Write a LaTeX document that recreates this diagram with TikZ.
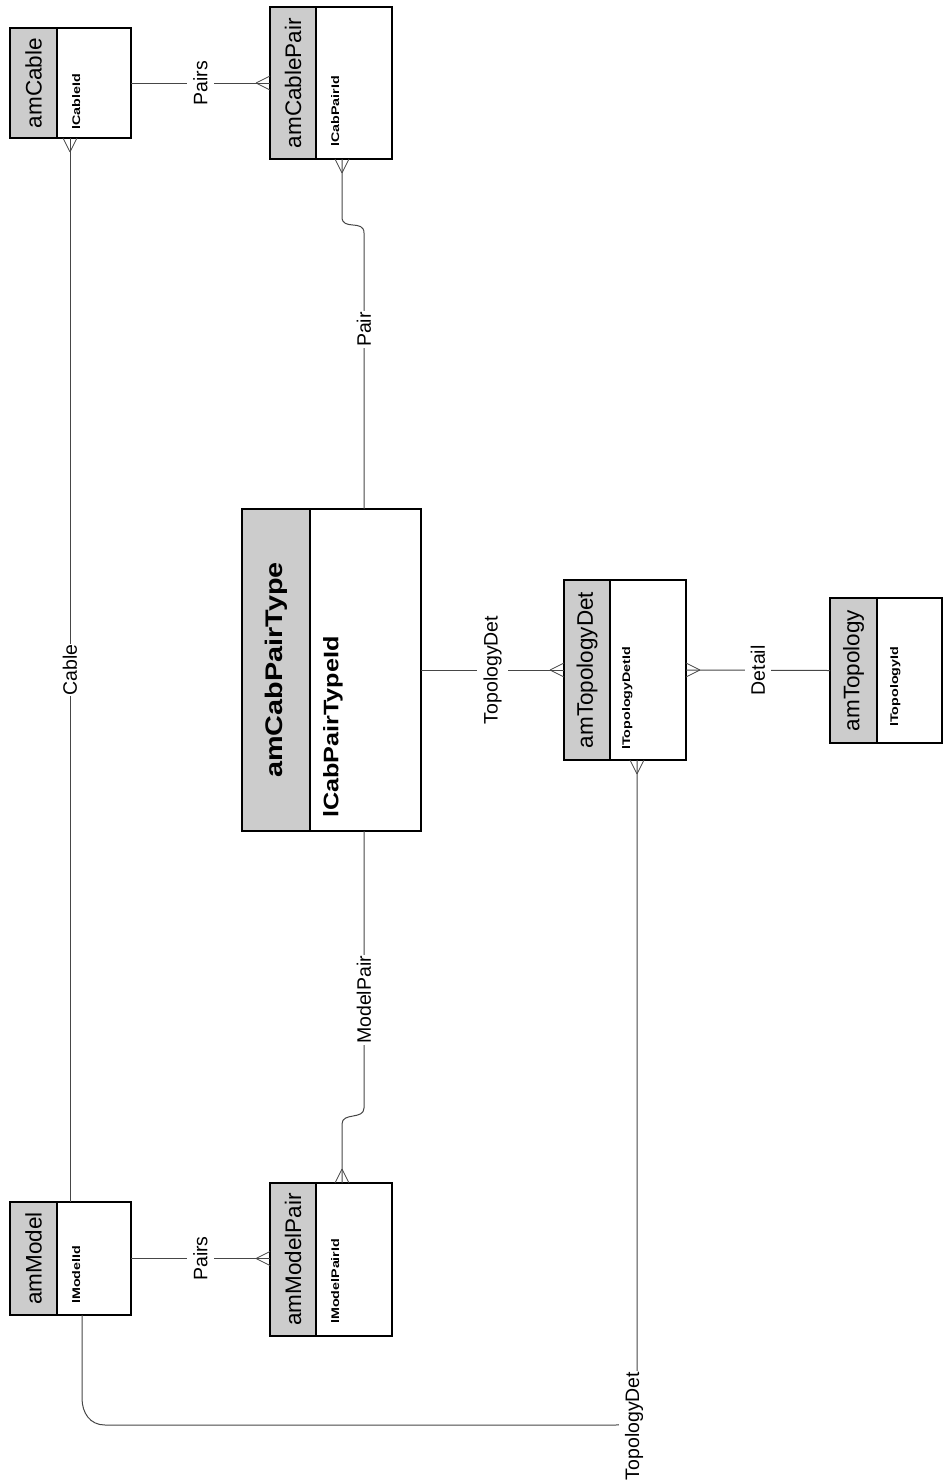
\documentclass[tikz,border=0pt]{standalone}
\usepackage{fontspec}
\setmainfont{Liberation Sans}
\newfontfamily\widefont[FakeStretch=1.2]{Liberation Sans}
\newfontfamily\keyfont[FakeStretch=1.3]{Liberation Sans}
\usetikzlibrary{positioning}
\definecolor{headgray}{RGB}{204,204,204}
\definecolor{linkgray}{RGB}{70,70,70}

\tikzset{
  entityhead/.style={draw=black, fill=headgray, line width=1.6pt, inner sep=0pt, outer sep=0pt, anchor=north west},
  entitykey/.style={draw=black, fill=white, line width=1.6pt, inner sep=0pt, outer sep=0pt, anchor=north west},
  tabname/.style={rotate=90, inner sep=0pt, font=\fontsize{22.5}{26}\selectfont},
  bigname/.style={rotate=90, inner sep=0pt, font=\widefont\bfseries\fontsize{24}{28}\selectfont},
  keytext/.style={rotate=90, inner sep=0pt, anchor=north west, font=\keyfont\bfseries\fontsize{11}{13}\selectfont},
  bigkey/.style={rotate=90, inner sep=0pt, anchor=north west, font=\widefont\bfseries\fontsize{21}{24}\selectfont},
  link/.style={draw=linkgray, line width=1pt},
  rel/.style={rotate=90, fill=white, inner xsep=1pt, inner ysep=6pt, font=\fontsize{19.5}{22}\selectfont}
}

% crow's foot: #1 point on the box edge, #2 direction away from the box
\newcommand{\crowfoot}[2]{%
  \draw[link, line width=0.8pt] ([shift={(#2:14pt)}]#1) -- ([shift={(#2+90:7pt)}]#1)
                                ([shift={(#2:14pt)}]#1) -- ([shift={(#2-90:7pt)}]#1);}

\begin{document}
\begin{tikzpicture}[x=1pt, y=-1pt]
    \useasboundingbox (0,0) rectangle (944,1484);

    % Tables
    \node[entityhead, minimum width=47pt, minimum height=110pt] (cable) at (10,28) {};
    \node[entitykey, minimum width=74pt, minimum height=110pt] (cableKey) at (cable.north east) {};
    \node[tabname] (cableName) at (cable.center) {amCable};
    \node[keytext] (cableId) at ([shift={(15pt,8pt)}]cableKey.south west) {lCableId};

    \node[entityhead, minimum width=46pt, minimum height=152pt] (cablePair) at (270,7) {};
    \node[entitykey, minimum width=76pt, minimum height=152pt] (cablePairKey) at (cablePair.north east) {};
    \node[tabname] (cablePairName) at (cablePair.center) {amCablePair};
    \node[keytext] (cablePairId) at ([shift={(15pt,12pt)}]cablePairKey.south west) {lCabPairId};

    \node[entityhead, minimum width=68pt, minimum height=322pt] (cabPair) at (242,509) {};
    \node[entitykey, minimum width=111pt, minimum height=322pt] (cabPairKey) at (cabPair.north east) {};
    \node[bigname] (cabPairName) at (cabPair.center) {amCabPairType};
    \node[bigkey] (cabPairId) at ([shift={(13pt,13pt)}]cabPairKey.south west) {lCabPairTypeId};

    \node[entityhead, minimum width=46pt, minimum height=180pt] (topoDet) at (564,580) {};
    \node[entitykey, minimum width=76pt, minimum height=180pt] (topoDetKey) at (topoDet.north east) {};
    \node[tabname] (topoDetName) at (topoDet.center) {amTopologyDet};
    \node[keytext] (topoDetId) at ([shift={(12pt,10pt)}]topoDetKey.south west) {lTopologyDetId};

    \node[entityhead, minimum width=47pt, minimum height=145pt] (topo) at (830,598) {};
    \node[entitykey, minimum width=65pt, minimum height=145pt] (topoKey) at (topo.north east) {};
    \node[tabname] (topoName) at (topo.center) {amTopology};
    \node[keytext] (topoId) at ([shift={(13pt,16pt)}]topoKey.south west) {lTopologyId};

    \node[entityhead, minimum width=47pt, minimum height=113pt] (model) at (10,1202) {};
    \node[entitykey, minimum width=74pt, minimum height=113pt] (modelKey) at (model.north east) {};
    \node[tabname] (modelName) at (model.center) {amModel};
    \node[keytext] (modelId) at ([shift={(15pt,11pt)}]modelKey.south west) {lModelId};

    \node[entityhead, minimum width=46pt, minimum height=153pt] (modelPair) at (270,1183) {};
    \node[entitykey, minimum width=76pt, minimum height=153pt] (modelPairKey) at (modelPair.north east) {};
    \node[tabname] (modelPairName) at (modelPair.center) {amModelPair};
    \node[keytext] (modelPairId) at ([shift={(15pt,12pt)}]modelPairKey.south west) {lModelPairId};

    % Link ends
    \coordinate (cableFoot) at ([xshift=13pt]cableKey.south west);
    \coordinate (cpFoot) at (cableKey.east -| cablePair.west);
    \coordinate (pairFoot) at ([xshift=26pt]cablePairKey.south west);
    \coordinate (pairEnd) at ([xshift=54pt]cabPairKey.north west);
    \coordinate (mpStart) at ([xshift=54pt]cabPairKey.south west);
    \coordinate (mpFoot) at ([xshift=26pt]modelPairKey.north west);
    \coordinate (mpSide) at (modelKey.east -| modelPair.west);
    \coordinate (tdFoot) at ([xshift=27pt]topoDetKey.south west);
    \coordinate (tdStart) at ([xshift=25pt]modelKey.south west);

    % Links
    \draw[link] (cableKey.east) -- node[rel] (cablePairsLbl) {Pairs} (cpFoot);
    \draw[link] (cableFoot) -- node[rel] (cableLbl) {Cable} ([xshift=13pt]modelKey.north west);
    \draw[link] (pairFoot) -- (342,217) .. controls (342,231) and (364,219) .. (364,233)
        -- node[rel, pos=0.35] (pairLbl) {Pair} (pairEnd);
    \draw[link] (mpStart) -- node[rel, pos=0.61] (modelPairLbl) {ModelPair} (364,1108)
        .. controls (364,1120) and (342,1112) .. (342,1124) -- (mpFoot);
    \draw[link] (modelKey.east) -- node[rel] (modelPairsLbl) {Pairs} (mpSide);
    \draw[link] (cabPairKey.east) -- node[rel] (topoDetLbl) {TopologyDet} (topoDet.west);
    \draw[link] (topoDetKey.east) -- node[rel] (detailLbl) {Detail} (topo.west);
    \draw[link] (tdStart) -- (82,1398) .. controls (82,1413) and (90,1425) .. (105,1425)
        -- (616,1425) .. controls (628,1425) and (637,1416) .. (637,1404) -- (tdFoot);
    \node[rel] (modelTopoLbl) at (634,1426) {TopologyDet};

    % Crow's feet
    \crowfoot{cableFoot}{-90}
    \crowfoot{cpFoot}{180}
    \crowfoot{pairFoot}{-90}
    \crowfoot{mpFoot}{90}
    \crowfoot{mpSide}{180}
    \crowfoot{topoDet.west}{180}
    \crowfoot{topoDetKey.east}{0}
    \crowfoot{tdFoot}{-90}
\end{tikzpicture}
\end{document}
